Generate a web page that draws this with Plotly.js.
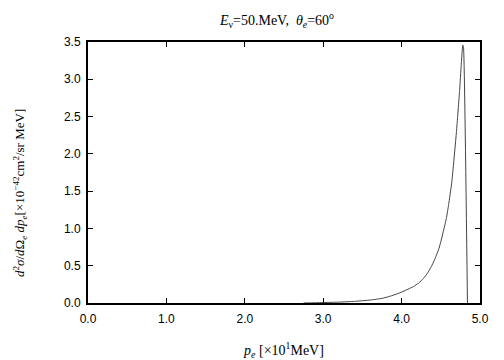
<!DOCTYPE html>
<html>
<head>
<meta charset="utf-8">
<script src="https://cdn.plot.ly/plotly-3.0.1.min.js"></script>
<style>html,body{margin:0;padding:0;background:#fff;}#chart{width:504px;height:360px;}</style>
</head>
<body>
<div id="chart"></div>
<script>
// momentum of outgoing electron [x10 MeV]
const pe = [2.75, 2.9, 3.0, 3.2, 3.4, 3.6, 3.75, 3.85, 3.95, 4.05, 4.15, 4.22, 4.28, 4.33, 4.38, 4.42, 4.47, 4.50, 4.53, 4.57, 4.60, 4.64, 4.70, 4.74, 4.78, 4.79, 4.84];
// cross section [x10^-42 cm^2/sr MeV]
const xsec = [0.0, 0.003, 0.006, 0.012, 0.022, 0.040, 0.062, 0.09, 0.125, 0.17, 0.22, 0.27, 0.33, 0.40, 0.49, 0.58, 0.71, 0.82, 0.95, 1.13, 1.32, 1.62, 2.30, 2.85, 3.46, 3.42, 0.0];
const xTicks = [0, 1, 2, 3, 4, 5];
const xTickText = ["0.0", "1.0", "2.0", "3.0", "4.0", "5.0"];
const yTicks = [0, 0.5, 1, 1.5, 2, 2.5, 3, 3.5];
const yTickText = ["0.0", "0.5", "1.0", "1.5", "2.0", "2.5", "3.0", "3.5"];

const serif = "Liberation Serif, Times New Roman, serif";
const sans = "Liberation Sans, Arial, Helvetica, sans-serif";

const trace = {
  x: pe, y: xsec, type: "scatter", mode: "lines",
  line: {color: "#444", width: 1, shape: "spline", smoothing: 0.4}, hoverinfo: "skip"
};

const axisCommon = {
  showgrid: false, zeroline: false, showline: true, linecolor: "#000", linewidth: 2,
  mirror: "ticks", ticks: "inside", ticklen: 5, tickwidth: 1, tickcolor: "#000",
  tickfont: {family: sans, size: 12, color: "#000"}
};

const layout = {
  width: 504, height: 360,
  margin: {l: 88, r: 24, t: 42, b: 57},
  paper_bgcolor: "#fff", plot_bgcolor: "#fff",
  showlegend: false,
  title: {
    text: "<i>E</i><sub>ν</sub>=50.MeV,  <i>θ</i><sub><i>e</i></sub>=60<sup>o</sup>",
    font: {family: serif, size: 14, color: "#000"},
    x: 277/504, xanchor: "center", y: 1 - 20/360, yanchor: "middle", xref: "container", yref: "container"
  },
  xaxis: Object.assign({}, axisCommon, {
    range: [0, 5], tickvals: xTicks, ticktext: xTickText, ticklabelstandoff: 4,
    title: {text: "<i>p</i><sub><i>e</i></sub> [×10<sup>1</sup>MeV]", font: {family: serif, size: 14, color: "#000"}, standoff: 22}
  }),
  yaxis: Object.assign({}, axisCommon, {
    range: [0, 3.5], tickvals: yTicks, ticktext: yTickText, ticklabelstandoff: 3
  }),
  annotations: [{
    text: "<i>d</i><sup>2</sup><i>σ</i>/<i>d</i>Ω<sub><i>e</i></sub> <i>dp</i><sub><i>e</i></sub>[×10<sup>−42</sup>cm<sup>2</sup>/sr MeV]",
    xref: "paper", yref: "paper", x: -68/392, y: (303 - 193)/261,
    xanchor: "center", yanchor: "middle", textangle: -90, showarrow: false,
    font: {family: serif, size: 13, color: "#000"}
  }]
};

Plotly.newPlot("chart", [trace], layout, {staticPlot: true, displayModeBar: false});
</script>
</body>
</html>
